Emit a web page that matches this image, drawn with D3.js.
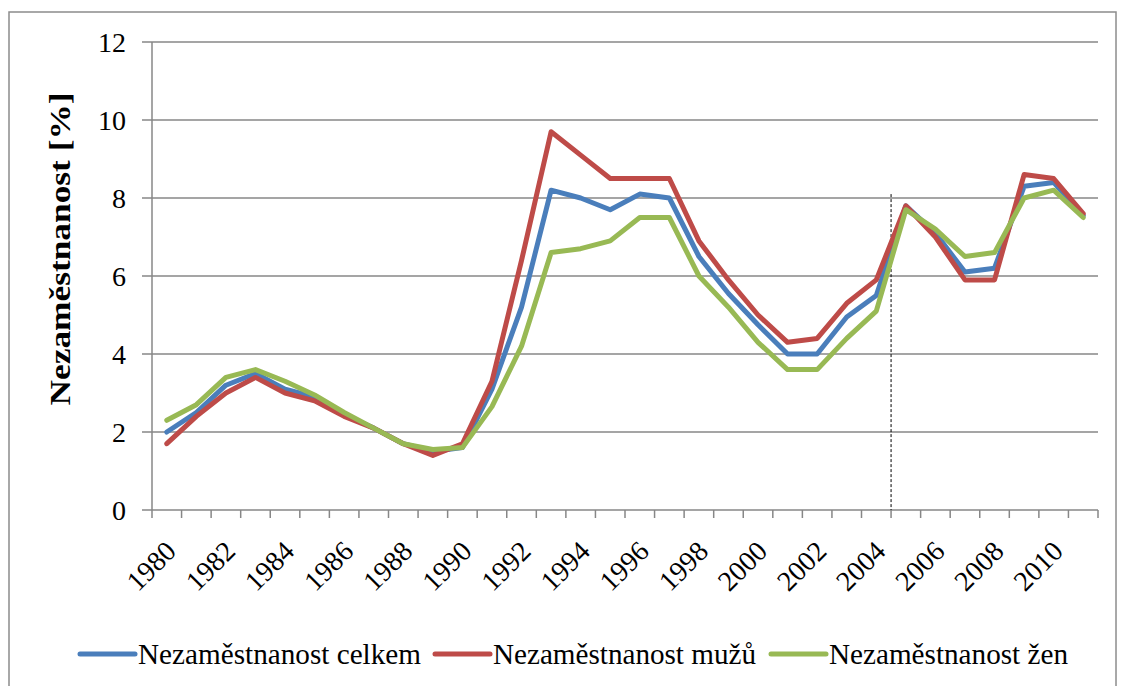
<!DOCTYPE html>
<html>
<head>
<meta charset="utf-8">
<script src="https://cdn.jsdelivr.net/npm/d3@7"></script>
<style>
body { margin:0; background:#fff; }
</style>
</head>
<body>
<div id="chart"></div>
<script>
// data
var years = d3.range(1980, 2012).map(String);
var celkem = [2.0,2.5,3.2,3.5,3.1,2.9,2.45,2.1,1.7,1.5,1.6,3.1,5.2,8.2,8.0,7.7,8.1,8.0,6.5,5.55,4.75,4.0,4.0,4.95,5.5,7.8,7.1,6.1,6.2,8.3,8.4,7.55];
var muzu   = [1.7,2.4,3.0,3.4,3.0,2.8,2.4,2.1,1.7,1.4,1.7,3.3,6.4,9.7,9.1,8.5,8.5,8.5,6.9,5.9,5.0,4.3,4.4,5.3,5.9,7.8,7.0,5.9,5.9,8.6,8.5,7.6];
var zen    = [2.3,2.7,3.4,3.6,3.3,2.95,2.5,2.1,1.7,1.55,1.6,2.65,4.2,6.6,6.7,6.9,7.5,7.5,6.0,5.2,4.3,3.6,3.6,4.4,5.1,7.7,7.2,6.5,6.6,8.0,8.2,7.5];
var seriesNames = ["Nezaměstnanost celkem","Nezaměstnanost mužů","Nezaměstnanost žen"];
var colors = ["#4a7ebb","#be4b48","#98b954"];
var yTicks = [0,2,4,6,8,10,12];
var splitYear = "2005";
var FONT = "Times New Roman, Times, Liberation Serif, DejaVu Serif, Noto Serif, serif";

var svgWidth = 1121, svgHeight = 686;
var svg = d3.select("#chart").append("svg")
    .attr("width", svgWidth).attr("height", svgHeight)
    .style("font-family", FONT);

// outer frame
svg.append("rect").attr("x",9).attr("y",12).attr("width",1107).attr("height",700)
    .attr("fill","none").attr("stroke","#8c8c8c").attr("stroke-width",1.5);

var x = d3.scaleBand().domain(years).range([152,1098]).padding(0);
var y = d3.scaleLinear().domain([0,12]).range([510,42]);
var cx = d => x(d) + x.bandwidth()/2;

// gridlines
svg.append("g").selectAll("line").data(yTicks).enter().append("line")
    .attr("x1",142).attr("x2",1098)
    .attr("y1",d=>y(d)).attr("y2",d=>y(d))
    .attr("stroke","#878787").attr("stroke-width",1.5);

// y axis
var leftAxis = d3.axisLeft(y).tickValues(yTicks).tickSize(0).tickPadding(16);
var gy = svg.append("g").attr("transform","translate(142,0)").call(leftAxis);
gy.select(".domain").remove();
gy.selectAll("text").attr("font-size","28px").attr("dy","0.35em").attr("fill","#000")
    .style("font-family", FONT);
svg.append("line").attr("x1",152).attr("x2",152).attr("y1",42).attr("y2",510)
    .attr("stroke","#878787").attr("stroke-width",1.5);

// x axis ticks at category boundaries
var bounds = years.map(d => x(d)).concat([x.range()[1]]);
svg.append("g").selectAll("line").data(bounds).enter().append("line")
    .attr("x1",d=>d).attr("x2",d=>d).attr("y1",510).attr("y2",518)
    .attr("stroke","#878787").attr("stroke-width",1.5);

var bottomAxis = d3.axisBottom(x).tickValues(years.filter((d,i)=>i%2==0)).tickSize(0);
var gx = svg.append("g").attr("transform","translate(0,510)").call(bottomAxis);
gx.select(".domain").remove();
gx.selectAll("text")
    .style("font-family", FONT)
    .attr("font-size","28px")
    .attr("fill","#000")
    .attr("text-anchor","end")
    .attr("dy","0.35em")
    .attr("transform","translate(4,36) rotate(-45)")
    .attr("x",0).attr("y",0);

// dashed split line
svg.append("line").attr("x1",x(splitYear)).attr("x2",x(splitYear))
    .attr("y1",y(8.1)).attr("y2",510)
    .attr("stroke","#000").attr("stroke-width",1).attr("stroke-dasharray","3,2");

// y label
svg.append("text")
    .attr("transform","translate(70,249) rotate(-90)")
    .attr("text-anchor","middle")
    .attr("font-size","30px").attr("font-weight","bold")
    .attr("textLength",313).attr("lengthAdjust","spacingAndGlyphs")
    .text("Nezaměstnanost [%]");

// lines
var line = d3.line().x((d,i)=>cx(years[i])).y(d=>y(d));
[celkem, muzu, zen].forEach(function(s,i){
    svg.append("path").datum(s)
        .attr("d", line)
        .attr("fill","none")
        .attr("stroke", colors[i])
        .attr("stroke-width",5)
        .attr("stroke-linejoin","round")
        .attr("stroke-linecap","round");
});

// legend
var legX = [80, 435, 771];
var legW = [283, 263, 239];
var leg = svg.append("g");
seriesNames.forEach(function(n,i){
    leg.append("line").attr("x1",legX[i]).attr("x2",legX[i]+55)
        .attr("y1",654).attr("y2",654)
        .attr("stroke",colors[i]).attr("stroke-width",5).attr("stroke-linecap","round");
    leg.append("text").attr("x",legX[i]+58).attr("y",654).attr("dy","0.35em")
        .attr("font-size","29px")
        .attr("textLength",legW[i]).attr("lengthAdjust","spacingAndGlyphs")
        .text(n);
});
</script>
</body>
</html>
